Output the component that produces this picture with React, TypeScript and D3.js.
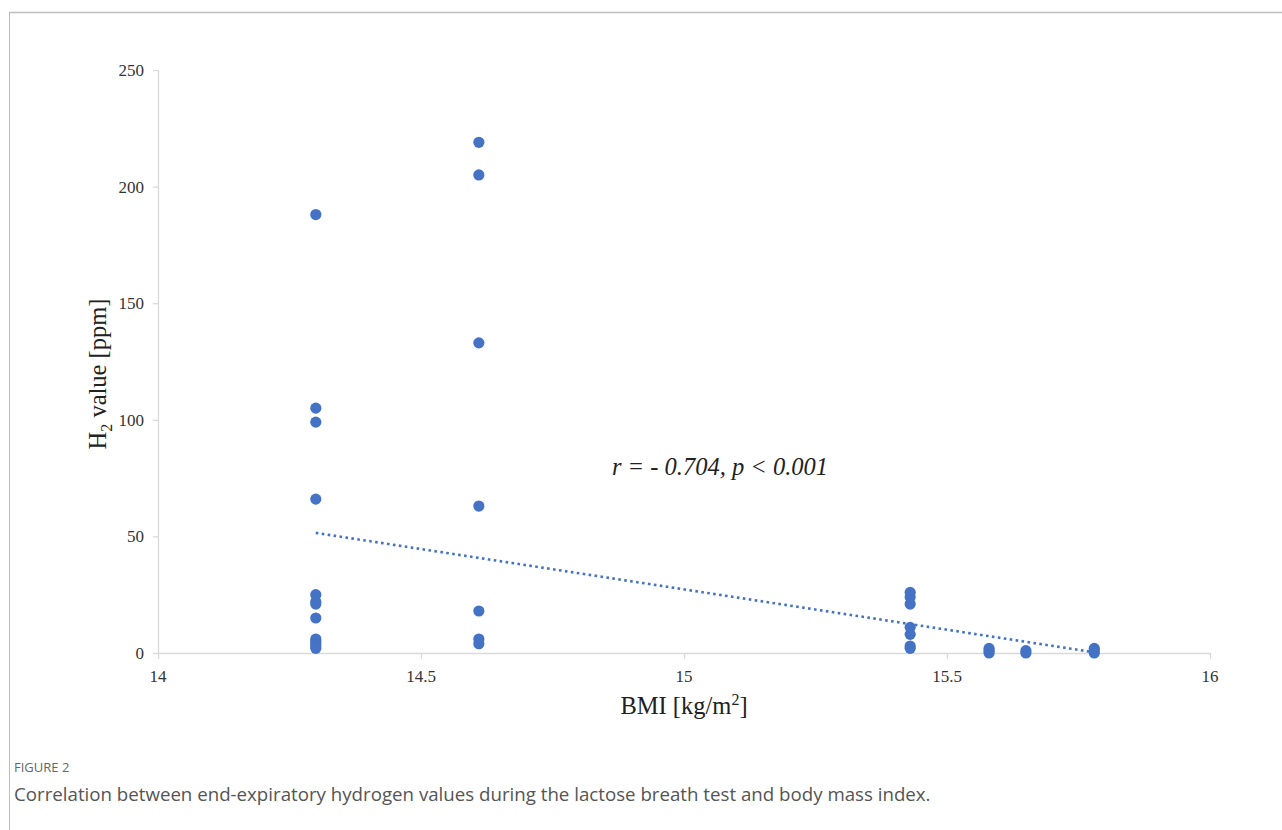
import React from "react";
import * as d3 from "d3";

const bmiGroups = [14.3, 14.61, 15.43, 15.58, 15.65, 15.78];
const h2Values: number[][] = [
  [188, 105, 99, 66, 25, 22, 21, 15, 6, 5, 4, 3, 2],
  [219, 205, 133, 63, 18, 6, 4],
  [26, 24, 21, 11, 8, 3, 2],
  [2, 1, 0],
  [1, 0],
  [2, 1, 0],
];
const xTicks = [14, 14.5, 15, 15.5, 16];
const xTickLabels = ["14", "14.5", "15", "15.5", "16"];
const yTicks = [0, 50, 100, 150, 200, 250];
const trendX = [14.3, 15.78];
const trendY = [51.5, 0.3];

const W = 1282;
const H = 830;

export default function App() {
  const x = d3.scaleLinear().domain([14, 16]).range([158, 1210]);
  const y = d3.scaleLinear().domain([0, 250]).range([653, 70]);
  const points = bmiGroups.flatMap((b, i) => h2Values[i].map((v) => ({ b, v })));
  const line = d3
    .line<number>()
    .x((d) => x(trendX[d]))
    .y((d) => y(trendY[d]));
  const serif = "'Liberation Serif', 'Times New Roman', serif";
  const sans = "'Open Sans', 'Noto Sans', sans-serif";
  const axisColor = "#d9d9d9";
  return (
    <svg
      width={W}
      height={H}
      style={{ position: "absolute", left: 0, top: 0, background: "#fff" }}
    >
      <line x1={9} y1={12.5} x2={W} y2={12.5} stroke="#bdbdbd" strokeWidth={1.5} />
      <line x1={9.5} y1={12} x2={9.5} y2={H} stroke="#bdbdbd" strokeWidth={1} />

      {/* axes */}
      <line x1={x(14)} y1={y(0) + 0.5} x2={x(16)} y2={y(0) + 0.5} stroke={axisColor} strokeWidth={1.3} />
      <line x1={x(14) + 0.5} y1={y(250)} x2={x(14) + 0.5} y2={y(0)} stroke={axisColor} strokeWidth={1.3} />
      {xTicks.map((t, i) => (
        <g key={"xt" + t}>
          <line x1={x(t) + 0.5} x2={x(t) + 0.5} y1={y(0)} y2={y(0) + 6} stroke={axisColor} strokeWidth={1.3} />
          <text
            x={x(t)}
            y={y(0) + 29}
            textAnchor="middle"
            fontFamily={serif}
            fontSize={17}
            fill="#333"
          >
            {xTickLabels[i]}
          </text>
        </g>
      ))}
      {yTicks.map((t) => (
        <g key={"yt" + t}>
          <line x1={x(14) - 5} x2={x(14)} y1={y(t) + 0.5} y2={y(t) + 0.5} stroke={axisColor} strokeWidth={1.3} />
          <text
            x={x(14) - 14}
            y={y(t) + 6}
            textAnchor="end"
            fontFamily={serif}
            fontSize={17}
            fill="#333"
          >
            {t}
          </text>
        </g>
      ))}

      {/* axis titles */}
      <text
        x={x(15)}
        y={714}
        textAnchor="middle"
        fontFamily={serif}
        fontSize={24.5}
        fill="#222"
      >
        BMI [kg/m<tspan dy={-9} fontSize={16}>2</tspan>
        <tspan dy={9}>]</tspan>
      </text>
      <text
        transform={`translate(106, 374) rotate(-90)`}
        textAnchor="middle"
        fontFamily={serif}
        fontSize={24.5}
        fill="#222"
      >
        H<tspan dy={6} fontSize={16}>2</tspan>
        <tspan dy={-6}> value [ppm]</tspan>
      </text>

      {/* points */}
      {points.map((p, i) => (
        <circle key={i} cx={x(p.b)} cy={y(p.v)} r={5.6} fill="#4472C4" />
      ))}

      {/* trend line */}
      <path
        d={line([0, 1]) || ""}
        fill="none"
        stroke="#4472C4"
        strokeWidth={2.6}
        strokeDasharray="2.6 3.4"
      />

      <text
        x={720}
        y={475}
        textAnchor="middle"
        fontFamily={serif}
        fontStyle="italic"
        fontSize={24.5}
        fill="#222"
      >
        r = - 0.704, p {"<"} 0.001
      </text>

      {/* caption */}
      <text x={14} y={772} fontFamily={sans} fontSize={13} fill="#666">
        FIGURE 2
      </text>
      <text x={14} y={801} fontFamily={sans} fontSize={18.7} fill="#555">
        Correlation between end-expiratory hydrogen values during the lactose breath test and body mass index.
      </text>
    </svg>
  );
}
